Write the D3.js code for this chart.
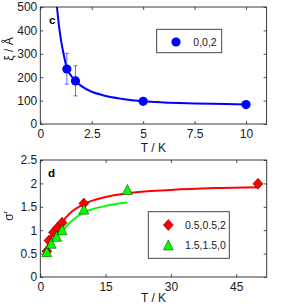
<!DOCTYPE html>
<html>
<head>
<meta charset="utf-8">
<style>
  body { margin: 0; background: #fff; }
  svg { display: block; font-family: "Liberation Sans", Arial, sans-serif; }
  .tick text { font-size: 12px; fill: #1a1a1a; }
  .tick line { stroke: #262626; stroke-width: 0.8; }
  .frame { fill: none; stroke: #262626; stroke-width: 0.9; }
  .legend rect { fill: #fff; stroke: #333; stroke-width: 0.9; }
  .legend text { font-size: 10.5px; fill: #1a1a1a; }
  .axlabel { font-size: 12px; fill: #1a1a1a; }
  .panel { font-size: 11.5px; font-weight: bold; fill: #000; }
</style>
</head>
<body>
<svg id="chart" width="283" height="306"></svg>
<script src="https://d3js.org/d3.v7.min.js"></script>
<script>
// panel c: correlation length vs T
var cT = [1.29, 1.71, 5, 10];
var cXi = [235, 184, 97, 83];
var cErrLo = [170, 120, 86, 72];
var cErrHi = [302, 249, 108, 95];
// fit line
var cFitT = [0.81, 0.9, 1.0, 1.13, 1.29, 1.5, 1.71, 2.0, 2.5, 3, 4, 5, 6, 7.5, 9, 10];
var cFitXi = [500, 425, 362, 300, 240, 206, 184, 162, 138, 124, 107, 97, 92, 88, 85, 83];
var cXTicks = [0, 2.5, 5, 7.5, 10];
var cYTicks = [0, 100, 200, 300, 400, 500];

// panel d: sigma' vs T
var redT = [1.5, 2, 3, 4, 5, 10, 50];
var redS = [0.55, 0.78, 0.95, 1.06, 1.16, 1.57, 1.99];
var greenT = [1.5, 2.5, 3.75, 5, 10, 20];
var greenS = [0.54, 0.72, 0.87, 1.01, 1.45, 1.87];
var redFitT = [1.3, 2, 3, 4, 5, 7, 10, 15, 20, 30, 40, 50];
var redFitS = [0.52, 0.76, 0.95, 1.08, 1.18, 1.38, 1.56, 1.71, 1.79, 1.86, 1.9, 1.92];
var greenFitT = [1.4, 2, 3, 4, 5, 7, 10, 12, 15, 20];
var greenFitS = [0.5, 0.63, 0.79, 0.9, 0.99, 1.18, 1.38, 1.45, 1.52, 1.59];
var dXTicks = [0, 15, 30, 45];
var dYTicks = [0, 0.5, 1, 1.5, 2, 2.5];

var svg = d3.select("#chart");

function frame(x, y, xTicks, yTicks) {
  var g = svg.append("g");
  var r = x.range(), b = y.range();
  g.append("g").attr("transform", "translate(0," + b[0] + ")")
    .call(d3.axisBottom(x).tickValues(xTicks).tickSize(-3).tickPadding(5).tickFormat(d3.format("")));
  g.append("g").attr("transform", "translate(0," + b[1] + ")")
    .call(d3.axisTop(x).tickValues(xTicks).tickSize(-3).tickFormat(""));
  g.append("g").attr("transform", "translate(" + r[0] + ",0)")
    .call(d3.axisLeft(y).tickValues(yTicks).tickSize(-3).tickPadding(3).tickFormat(d3.format("")));
  g.append("g").attr("transform", "translate(" + r[1] + ",0)")
    .call(d3.axisRight(y).tickValues(yTicks).tickSize(-3).tickFormat(""));
  g.selectAll(".domain").remove();
  g.append("rect").attr("class", "frame")
    .attr("x", r[0]).attr("y", b[1])
    .attr("width", r[1] - r[0]).attr("height", b[0] - b[1]);
  return g;
}

// ---- panel c ----
var xc = d3.scaleLinear().domain([0, 11]).range([40.3, 266.6]);
var yc = d3.scaleLinear().domain([0, 500]).range([124, 7]);

var clip = svg.append("clipPath").attr("id", "clipc").append("rect")
  .attr("x", 40.3).attr("y", 7).attr("width", 226.3).attr("height", 117);

var lineC = d3.line().curve(d3.curveMonotoneX)
  .x(function(d) { return xc(d[0]); }).y(function(d) { return yc(d[1]); });
svg.append("path")
  .datum(d3.zip(cFitT, cFitXi))
  .attr("clip-path", "url(#clipc)")
  .attr("d", lineC).attr("fill", "none")
  .attr("stroke", "#0000ff").attr("stroke-width", 2);

var eb = svg.append("g").attr("stroke", "#3a46ff").attr("stroke-width", 0.8);
cT.forEach(function(t, i) {
  var cx = xc(t);
  eb.append("line").attr("x1", cx).attr("x2", cx).attr("y1", yc(cErrLo[i])).attr("y2", yc(cErrHi[i]));
  eb.append("line").attr("x1", cx - 2).attr("x2", cx + 2).attr("y1", yc(cErrLo[i])).attr("y2", yc(cErrLo[i]));
  eb.append("line").attr("x1", cx - 2).attr("x2", cx + 2).attr("y1", yc(cErrHi[i])).attr("y2", yc(cErrHi[i]));
});

svg.append("g").selectAll("circle")
  .data(d3.zip(cT, cXi)).enter().append("circle")
  .attr("cx", function(d) { return xc(d[0]); })
  .attr("cy", function(d) { return yc(d[1]); })
  .attr("r", 4.6).attr("fill", "#0000ff");

frame(xc, yc, cXTicks, cYTicks);

svg.append("text").attr("class", "panel").attr("x", 49).attr("y", 23.5).text("c");
svg.append("text").attr("class", "axlabel").attr("text-anchor", "middle")
  .attr("x", 153.4).attr("y", 152).text("T / K");
svg.append("text").attr("class", "axlabel").attr("text-anchor", "middle")
  .attr("transform", "translate(13,49) rotate(-90)").text("ξ / Å");

var legC = svg.append("g").attr("class", "legend");
legC.append("rect").attr("x", 156.7).attr("y", 29.3).attr("width", 65).attr("height", 23.4);
legC.append("circle").attr("cx", 176).attr("cy", 42).attr("r", 4.6).attr("fill", "#0000ff");
legC.append("text").attr("x", 193.3).attr("y", 45.8).text("0,0,2");

// ---- panel d ----
var xd = d3.scaleLinear().domain([0, 52]).range([40.3, 266.7]);
var yd = d3.scaleLinear().domain([0, 2.5]).range([277, 160]);

var lineD = d3.line().curve(d3.curveMonotoneX)
  .x(function(d) { return xd(d[0]); }).y(function(d) { return yd(d[1]); });

svg.append("path").datum(d3.zip(redFitT, redFitS))
  .attr("d", lineD).attr("fill", "none").attr("stroke", "#ff0000").attr("stroke-width", 2);
svg.append("path").datum(d3.zip(greenFitT, greenFitS))
  .attr("d", lineD).attr("fill", "none").attr("stroke", "#00ff00").attr("stroke-width", 2);

var diamond = {
  draw: function(ctx, size) {
    var w = Math.sqrt(size) / 2, h = w * 1.1;
    ctx.moveTo(0, -h); ctx.lineTo(w, 0); ctx.lineTo(0, h); ctx.lineTo(-w, 0); ctx.closePath();
  }
};
var triangle = {
  draw: function(ctx, size) {
    var w = Math.sqrt(size) / 2;
    ctx.moveTo(0, -w); ctx.lineTo(w, w); ctx.lineTo(-w, w); ctx.closePath();
  }
};
var diamondSym = d3.symbol().type(diamond).size(100);
var triSym = d3.symbol().type(triangle).size(100);

svg.append("g").selectAll("path")
  .data(d3.zip(redT, redS)).enter().append("path")
  .attr("d", diamondSym)
  .attr("transform", function(d) { return "translate(" + xd(d[0]) + "," + yd(d[1]) + ")"; })
  .attr("fill", "#ff0000").attr("stroke", "#400000").attr("stroke-width", 0.5);

svg.append("g").selectAll("path")
  .data(d3.zip(greenT, greenS)).enter().append("path")
  .attr("d", triSym)
  .attr("transform", function(d) { return "translate(" + xd(d[0]) + "," + yd(d[1]) + ")"; })
  .attr("fill", "#00ff00").attr("stroke", "#003000").attr("stroke-width", 0.5);

frame(xd, yd, dXTicks, dYTicks);

svg.append("text").attr("class", "panel").attr("x", 48).attr("y", 177).text("d");
svg.append("text").attr("class", "axlabel").attr("text-anchor", "middle")
  .attr("x", 153.5).attr("y", 302).text("T / K");
svg.append("text").attr("class", "axlabel").attr("text-anchor", "middle")
  .attr("transform", "translate(13,216) rotate(-90)").text("σ′");

var legD = svg.append("g").attr("class", "legend");
legD.append("rect").attr("x", 148.3).attr("y", 211.7).attr("width", 81).attr("height", 46.6);
legD.append("path").attr("d", diamondSym).attr("transform", "translate(168.3,225)")
  .attr("fill", "#ff0000").attr("stroke", "#400000").attr("stroke-width", 0.5);
legD.append("path").attr("d", triSym).attr("transform", "translate(168.3,245)")
  .attr("fill", "#00ff00").attr("stroke", "#003000").attr("stroke-width", 0.5);
legD.append("text").attr("x", 185).attr("y", 228.8).text("0.5,0.5,2");
legD.append("text").attr("x", 185).attr("y", 248.8).text("1.5,1.5,0");
</script>
</body>
</html>
